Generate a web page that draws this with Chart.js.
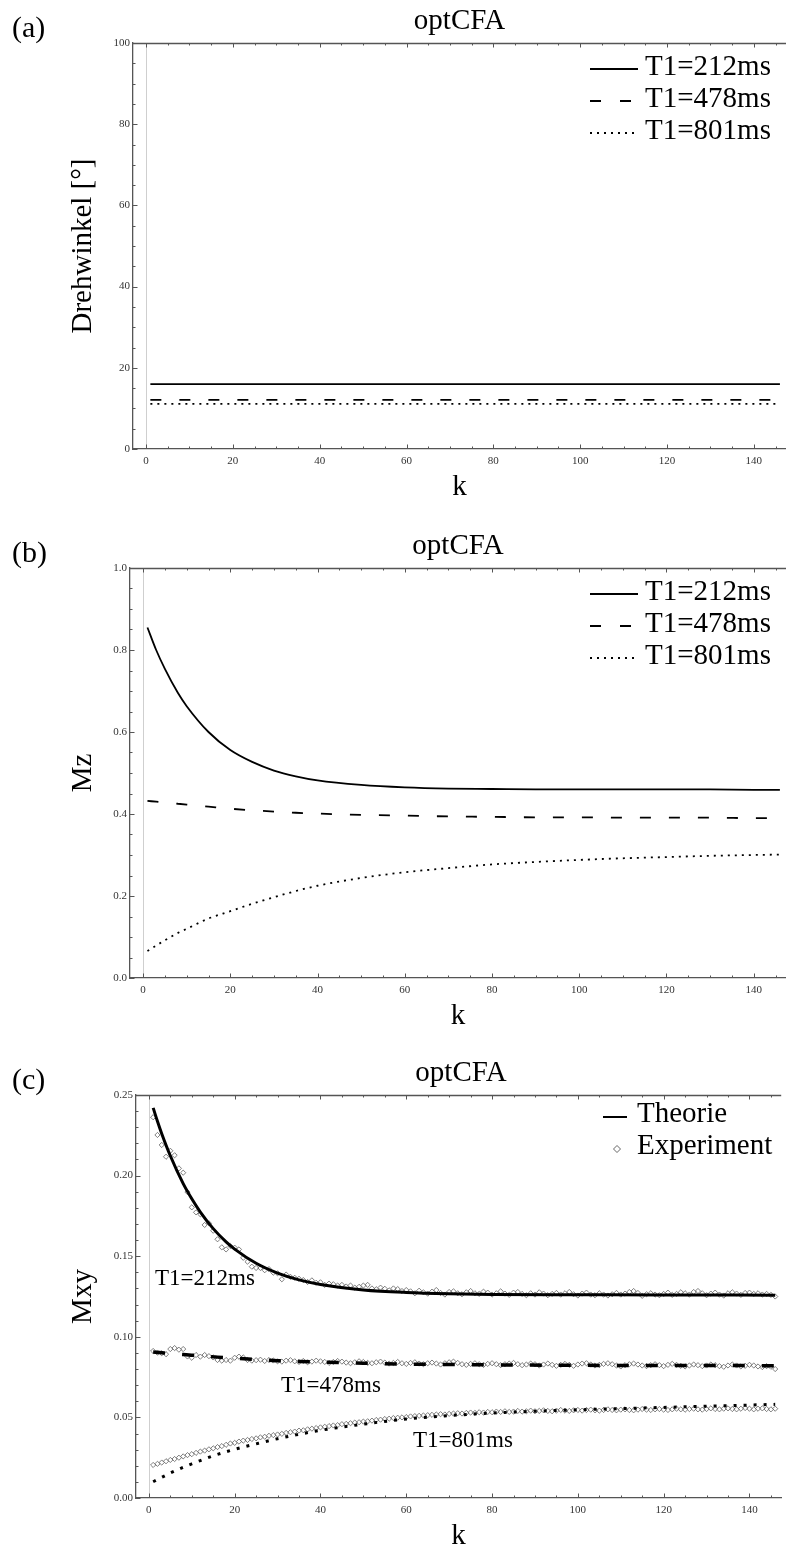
<!DOCTYPE html>
<html>
<head>
<meta charset="utf-8">
<script src="https://cdn.jsdelivr.net/npm/chart.js@4.4.1/dist/chart.umd.min.js"></script>
<style>
html,body{margin:0;padding:0;background:#fff;}
body{width:786px;height:1551px;overflow:hidden;position:relative;font-family:"Liberation Serif","Times New Roman",serif;}
.panel{position:absolute;left:0;width:786px;}
.panel canvas{position:absolute;left:0;top:0;}
.t{position:absolute;white-space:nowrap;line-height:1;color:#000;font-family:"Liberation Serif",serif;}
svg{position:absolute;overflow:visible;}
</style>
</head>
<body>
<script>
// ---------------- DATA ----------------
const xTickValues = [0, 20, 40, 60, 80, 100, 120, 140];
const seriesNames = ["T1=212ms", "T1=478ms", "T1=801ms"];

// (a) flip angle (constant)
const aK = [1, 146];
const aAngle212 = [16.0, 16.0];
const aAngle478 = [12.1, 12.1];
const aAngle801 = [11.1, 11.1];

// (b) Mz
const bK      = [1, 3, 5, 8, 10, 15, 20, 25, 30, 35, 40, 50, 60, 70, 80, 90, 100, 110, 120, 130, 140, 146];
const bMz212  = [0.855, 0.800, 0.754, 0.695, 0.663, 0.600, 0.556, 0.527, 0.506, 0.492, 0.482, 0.471, 0.465, 0.462, 0.461, 0.460, 0.460, 0.460, 0.460, 0.460, 0.459, 0.459];
const bMz478  = [0.432, 0.430, 0.428, 0.425, 0.423, 0.418, 0.413, 0.409, 0.406, 0.403, 0.401, 0.398, 0.396, 0.394, 0.393, 0.392, 0.392, 0.391, 0.391, 0.391, 0.390, 0.390];
const bMz801  = [0.066, 0.079, 0.092, 0.110, 0.120, 0.145, 0.163, 0.181, 0.197, 0.212, 0.225, 0.244, 0.258, 0.268, 0.277, 0.283, 0.288, 0.292, 0.295, 0.298, 0.300, 0.301];

// (c) Mxy theory
const cK         = [1, 2, 3, 5, 8, 10, 12, 15, 18, 20, 25, 30, 35, 40, 50, 60, 70, 80, 100, 120, 146];
const cTheo212   = [0.2420, 0.2337, 0.2260, 0.2123, 0.1950, 0.1856, 0.1774, 0.1671, 0.1589, 0.1544, 0.1456, 0.1395, 0.1353, 0.1325, 0.1291, 0.1275, 0.1267, 0.1263, 0.1261, 0.1260, 0.1258];
const cTheo478   = [0.0905, 0.0903, 0.0901, 0.0897, 0.0890, 0.0886, 0.0882, 0.0876, 0.0870, 0.0867, 0.0859, 0.0852, 0.0847, 0.0843, 0.0836, 0.0831, 0.0828, 0.0826, 0.0823, 0.0822, 0.0821];
const cTheo801   = [0.0101, 0.0115, 0.0128, 0.0155, 0.0190, 0.0212, 0.0232, 0.0262, 0.0287, 0.0302, 0.0336, 0.0368, 0.0395, 0.0420, 0.0458, 0.0490, 0.0511, 0.0527, 0.0547, 0.0562, 0.0581];

// (c) Mxy experiment, k = 1 .. 146
const cExp212 = [
0.2362,0.2252,0.2190,0.2117,0.2154,0.2126,0.2045,0.2018,0.1898,0.1803,
0.1772,0.1760,0.1694,0.1704,0.1658,0.1605,0.1555,0.1542,0.1563,0.1553,
0.1542,0.1490,0.1466,0.1435,0.1427,0.1427,0.1413,0.1420,0.1398,0.1394,
0.1357,0.1386,0.1372,0.1366,0.1360,0.1352,0.1340,0.1350,0.1335,0.1338,
0.1322,0.1330,0.1326,0.1318,0.1322,0.1312,0.1318,0.1305,0.1310,0.1318,
0.1322,0.1300,0.1295,0.1305,0.1298,0.1288,0.1300,0.1296,0.1284,0.1290,
0.1282,0.1270,0.1286,0.1276,0.1268,0.1280,0.1290,0.1272,0.1262,0.1278,
0.1282,0.1270,0.1264,0.1276,0.1284,0.1270,0.1266,0.1280,0.1274,0.1262,
0.1270,0.1282,0.1268,0.1260,0.1274,0.1278,0.1266,0.1258,0.1270,0.1262,
0.1276,0.1268,0.1258,0.1266,0.1272,0.1262,0.1270,0.1278,0.1264,0.1256,
0.1268,0.1274,0.1262,0.1258,0.1270,0.1262,0.1256,0.1264,0.1272,0.1262,
0.1268,0.1278,0.1284,0.1272,0.1254,0.1264,0.1270,0.1262,0.1258,0.1266,
0.1274,0.1260,0.1266,0.1276,0.1270,0.1262,0.1278,0.1284,0.1270,0.1258,
0.1268,0.1274,0.1262,0.1256,0.1270,0.1276,0.1268,0.1260,0.1272,0.1274,
0.1266,0.1270,0.1262,0.1266,0.1260,0.1250];
const cExp478 = [
0.0912,0.0902,0.0898,0.0892,0.0924,0.0930,0.0920,0.0924,0.0878,0.0870,
0.0887,0.0877,0.0887,0.0880,0.0872,0.0856,0.0852,0.0856,0.0852,0.0870,
0.0877,0.0872,0.0856,0.0852,0.0855,0.0858,0.0850,0.0856,0.0853,0.0848,
0.0846,0.0852,0.0855,0.0848,0.0844,0.0850,0.0842,0.0846,0.0852,0.0848,
0.0844,0.0838,0.0844,0.0850,0.0846,0.0840,0.0836,0.0842,0.0848,0.0844,
0.0838,0.0836,0.0842,0.0846,0.0840,0.0834,0.0838,0.0844,0.0836,0.0832,
0.0838,0.0842,0.0834,0.0830,0.0836,0.0840,0.0834,0.0828,0.0836,0.0842,
0.0846,0.0838,0.0830,0.0826,0.0832,0.0836,0.0830,0.0826,0.0832,0.0836,
0.0830,0.0824,0.0830,0.0834,0.0838,0.0830,0.0824,0.0828,0.0834,0.0830,
0.0822,0.0828,0.0834,0.0826,0.0820,0.0826,0.0832,0.0826,0.0820,0.0828,
0.0834,0.0836,0.0828,0.0822,0.0826,0.0832,0.0836,0.0830,0.0822,0.0816,
0.0824,0.0830,0.0834,0.0828,0.0822,0.0818,0.0824,0.0830,0.0824,0.0818,
0.0826,0.0832,0.0826,0.0820,0.0816,0.0822,0.0828,0.0824,0.0818,0.0822,
0.0828,0.0824,0.0818,0.0814,0.0822,0.0828,0.0822,0.0816,0.0820,0.0826,
0.0822,0.0816,0.0812,0.0818,0.0814,0.0800];
const cExp801 = [
0.0205,0.0212,0.0220,0.0228,0.0236,0.0242,0.0250,0.0258,0.0266,0.0272,
0.0280,0.0288,0.0294,0.0302,0.0308,0.0316,0.0322,0.0330,0.0338,0.0342,
0.0350,0.0356,0.0360,0.0366,0.0370,0.0376,0.0380,0.0386,0.0390,0.0394,
0.0398,0.0404,0.0408,0.0412,0.0418,0.0420,0.0426,0.0430,0.0434,0.0438,
0.0442,0.0446,0.0450,0.0452,0.0458,0.0460,0.0464,0.0468,0.0470,0.0474,
0.0476,0.0480,0.0484,0.0486,0.0490,0.0492,0.0496,0.0498,0.0500,0.0502,
0.0506,0.0508,0.0510,0.0512,0.0514,0.0516,0.0518,0.0520,0.0518,0.0522,
0.0524,0.0526,0.0524,0.0528,0.0530,0.0528,0.0532,0.0530,0.0534,0.0532,
0.0536,0.0534,0.0538,0.0534,0.0536,0.0540,0.0536,0.0538,0.0542,0.0538,
0.0540,0.0544,0.0540,0.0538,0.0542,0.0546,0.0542,0.0540,0.0544,0.0546,
0.0542,0.0546,0.0548,0.0544,0.0542,0.0546,0.0550,0.0546,0.0544,0.0548,
0.0550,0.0546,0.0544,0.0548,0.0552,0.0548,0.0546,0.0550,0.0552,0.0548,
0.0546,0.0550,0.0554,0.0550,0.0548,0.0552,0.0554,0.0550,0.0548,0.0552,
0.0556,0.0552,0.0550,0.0554,0.0556,0.0552,0.0550,0.0554,0.0558,0.0554,
0.0550,0.0554,0.0556,0.0552,0.0550,0.0554];

// ---------------- HELPERS ----------------
const FONT = "Liberation Serif";
function pts(ks, vs){ return vs.map((v,i)=>({x:ks[i], y:v})); }
function expPts(vs){ return vs.map((v,i)=>({x:i+1, y:v})); }

function addText(parent, text, x, baseline, size, align){
  const d = document.createElement('div');
  d.className = 't';
  d.textContent = text;
  d.style.fontSize = size + 'px';
  d.style.top = (baseline - 0.8375*size) + 'px';
  if (align === 'center'){ d.style.left = (x - 200) + 'px'; d.style.width='400px'; d.style.textAlign='center'; }
  else d.style.left = x + 'px';
  parent.appendChild(d);
  return d;
}
function addSvg(parent, x, y, w, h, inner){
  const ns='http://www.w3.org/2000/svg';
  const s=document.createElementNS(ns,'svg');
  s.setAttribute('width',w); s.setAttribute('height',h);
  s.style.left=x+'px'; s.style.top=y+'px';
  s.innerHTML=inner;
  parent.appendChild(s);
}

const framePlugin = {
  id:'frame',
  beforeDatasetsDraw(chart){
    const {ctx, chartArea:a, scales:{x}} = chart;
    const px = Math.round(x.getPixelForValue(0)) + 0.5;
    ctx.save();
    ctx.strokeStyle = '#cfcfcf'; ctx.lineWidth = 1;
    ctx.beginPath(); ctx.moveTo(px, a.top); ctx.lineTo(px, a.bottom); ctx.stroke();
    ctx.restore();
  },
  afterDraw(chart, args, o){
    const {ctx, chartArea:a, scales:{x,y}} = chart;
    ctx.save();
    ctx.strokeStyle = '#555';
    ctx.lineWidth = 1.3;
    ctx.beginPath(); ctx.moveTo(a.left, a.top + 0.5); ctx.lineTo(a.right, a.top + 0.5); ctx.stroke();
    ctx.lineWidth = 1;
    ctx.beginPath();
    for (let n = 0; n <= 29; n++){
      const v = n*5, p = Math.round(x.getPixelForValue(v)) + 0.5;
      const L = (n % 4 === 0) ? 4.5 : 2.5;
      ctx.moveTo(p, a.bottom); ctx.lineTo(p, a.bottom - L);
      ctx.moveTo(p, a.top); ctx.lineTo(p, a.top + L);
    }
    const nMax = Math.round(o.max / o.minor);
    for (let n = 0; n <= nMax; n++){
      const p = Math.round(y.getPixelForValue(n*o.minor)) + 0.5;
      const L = (n % o.every === 0) ? 4.5 : 2.5;
      ctx.moveTo(a.left, p); ctx.lineTo(a.left + L, p);
    }
    ctx.stroke();
    ctx.restore();
  }
};

function makePanel(cfg){
  const div = document.createElement('div');
  div.className = 'panel';
  div.style.top = cfg.top + 'px';
  const H = 43 + cfg.plotH + 70;
  div.style.height = H + 'px';
  document.body.appendChild(div);
  const cv = document.createElement('canvas');
  cv.width = 786; cv.height = H;
  cv.style.width = '786px'; cv.style.height = H + 'px';
  div.appendChild(cv);

  const tickFont = {family: FONT, size: 11};
  new Chart(cv.getContext('2d'), {
    type: 'line',
    data: {datasets: cfg.datasets},
    options: {
      responsive: false, animation: false, devicePixelRatio: 1,
      layout: {padding: {top: 43, left: 0, right: 0, bottom: 0}},
      plugins: {legend: {display: false}, tooltip: {enabled: false}, title: {display: false}, frame: {max: cfg.yMax, minor: cfg.yMinor, every: cfg.yEvery}},
      elements: {line: {tension: 0}},
      scales: {
        x: {
          type: 'linear', position: 'bottom', min: -3, max: 147.4,
          afterBuildTicks: s => { s.ticks = xTickValues.map(v => ({value: v})); },
          afterFit: s => { s.height = 70; },
          grid: {display: false, drawTicks: false},
          border: {display: true, color: '#555', width: 1.3},
          ticks: {font: tickFont, color: '#333', padding: 6, maxRotation: 0, autoSkip: false},
          title: {display: true, text: 'k', color: '#000', font: {family: FONT, size: 29}, padding: {top: 0, bottom: 14}}
        },
        y: {
          type: 'linear', position: 'left', min: 0, max: cfg.yMax,
          afterBuildTicks: s => { s.ticks = cfg.yTicks.map(v => ({value: v})); },
          afterFit: s => { s.width = cfg.left; },
          grid: {display: false, drawTicks: false},
          border: {display: true, color: '#555', width: 1.3},
          ticks: {font: tickFont, color: '#333', padding: 3, autoSkip: false, callback: v => cfg.fmt(v)},
          title: {display: true, text: cfg.yTitle, color: '#000', font: {family: FONT, size: 29}, padding: {top: 66, bottom: 0}}
        }
      }
    },
    plugins: [framePlugin]
  });

  addText(div, cfg.label, 12, 37, 30);
  addText(div, 'optCFA', (cfg.left + 786)/2, 29, 29, 'center');
  return div;
}

function lineDs(data, width, dash){
  return {data, borderColor: '#000', borderWidth: width, borderDash: dash, pointRadius: 0, fill: false,
          cubicInterpolationMode: 'monotone', order: 0};
}
function expDs(data){
  return {data, showLine: false, pointStyle: 'rectRot', pointRadius: 2.6, borderWidth: 0.8,
          pointBorderColor: '#606060', pointBackgroundColor: 'rgba(255,255,255,0)', borderColor: '#606060', order: 1};
}

function seriesLegend(div){
  const rows = [65, 97, 129];
  const dashes = ['', 'stroke-dasharray="11 19"', 'stroke-dasharray="2 5"'];
  rows.forEach((c, i) => {
    addSvg(div, 590, c + 4 - 2, 48, 4, '<line x1="0" y1="2" x2="48" y2="2" stroke="#000" stroke-width="1.8" ' + dashes[i] + '/>');
    addText(div, seriesNames[i], 645, c + 10, 29);
  });
}

// (a)
const pa = makePanel({
  label: '(a)', top: 0, plotH: 406, left: 133, yMax: 100, yMinor: 5, yEvery: 4,
  yTicks: [0, 20, 40, 60, 80, 100], fmt: v => String(v), yTitle: 'Drehwinkel [°]',
  datasets: [
    lineDs(pts(aK, aAngle212), 1.8, []),
    lineDs(pts(aK, aAngle478), 1.8, [11, 18]),
    lineDs(pts(aK, aAngle801), 1.8, [2, 5])
  ]
});
seriesLegend(pa);

// (b)
const pb = makePanel({
  label: '(b)', top: 525, plotH: 410, left: 130, yMax: 1.0, yMinor: 0.05, yEvery: 4,
  yTicks: [0, 0.2, 0.4, 0.6, 0.8, 1.0], fmt: v => v.toFixed(1), yTitle: 'Mz',
  datasets: [
    lineDs(pts(bK, bMz212), 1.8, []),
    lineDs(pts(bK, bMz478), 1.8, [11, 18]),
    lineDs(pts(bK, bMz801), 1.8, [2, 5])
  ]
});
seriesLegend(pb);

// (c)
const pc = makePanel({
  label: '(c)', top: 1052, plotH: 403, left: 136, yMax: 0.25, yMinor: 0.01, yEvery: 5,
  yTicks: [0, 0.05, 0.10, 0.15, 0.20, 0.25], fmt: v => v.toFixed(2), yTitle: 'Mxy',
  datasets: [
    lineDs(pts(cK, cTheo212), 3, []),
    lineDs(pts(cK, cTheo478), 3.5, [12, 17]),
    lineDs(pts(cK, cTheo801), 3, [3, 7]),
    expDs(expPts(cExp212)),
    expDs(expPts(cExp478)),
    expDs(expPts(cExp801))
  ]
});
addSvg(pc, 603, 63, 24, 4, '<line x1="0" y1="2" x2="24" y2="2" stroke="#000" stroke-width="2"/>');
addText(pc, 'Theorie', 637, 70, 29);
addSvg(pc, 613, 93, 8, 8, '<polygon points="4,0.5 7.5,4 4,7.5 0.5,4" fill="none" stroke="#555" stroke-width="0.9"/>');
addText(pc, 'Experiment', 637, 102, 29);
addText(pc, seriesNames[0], 155, 233, 23);
addText(pc, seriesNames[1], 281, 340, 23);
addText(pc, seriesNames[2], 413, 395, 23);
</script>
</body>
</html>
